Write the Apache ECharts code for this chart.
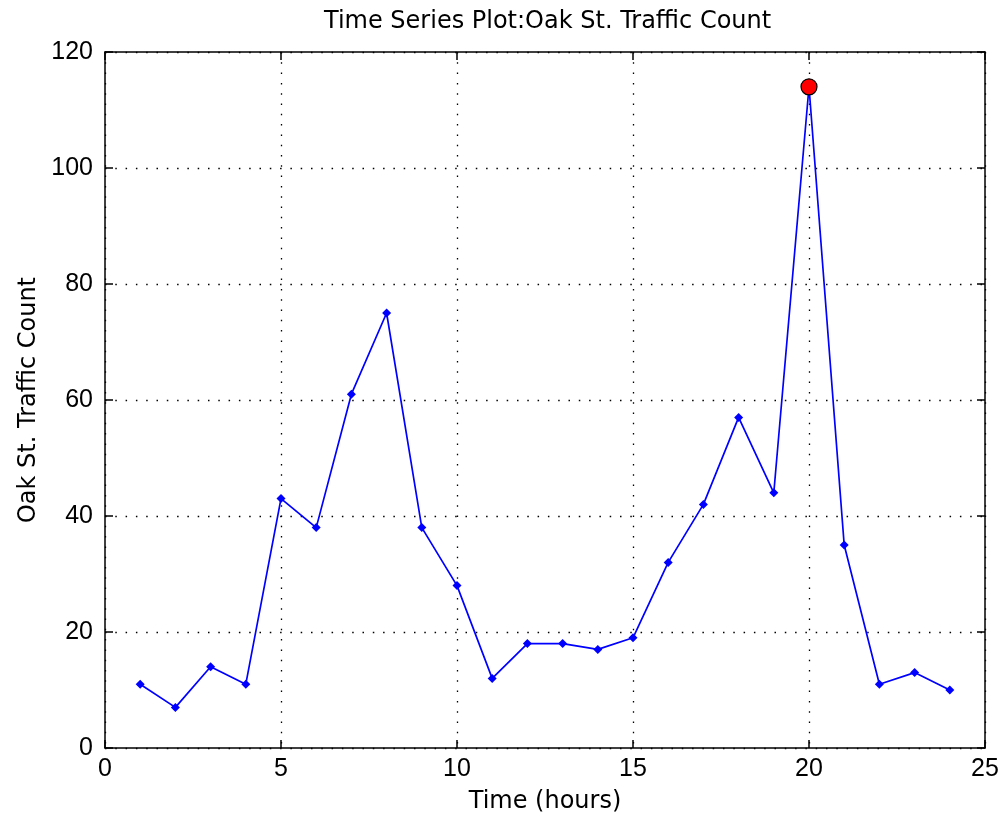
<!DOCTYPE html>
<html><head><meta charset="utf-8">
<script src="https://cdn.jsdelivr.net/npm/echarts@6/dist/echarts.min.js"></script>
<style>html,body{margin:0;padding:0;background:#fff}#c{width:1002px;height:822px}</style>
</head><body><div id="c"></div>
<script>
const hours = [1,2,3,4,5,6,7,8,9,10,11,12,13,14,15,16,17,18,19,20,21,22,23,24];
const counts = [11,7,14,11,43,38,61,75,38,28,12,18,18,17,19,32,42,57,44,114,35,11,13,10];
const xTicks = [0,5,10,15,20,25];
const yTicks = [0,20,40,60,80,100,120];
const titleText = 'Time Series Plot:Oak St. Traffic Count';
const xLabel = 'Time (hours)';
const yLabel = 'Oak St. Traffic Count';

const FONT = '"DejaVu Sans", "Liberation Sans", Arial, sans-serif';
const TICKFONT = '"Liberation Sans", Arial, sans-serif';
const lineData = hours.map((h,i)=>[h,counts[i]]);
let mi = 0; counts.forEach((v,i)=>{ if(v>counts[mi]) mi=i; });
const peak = [[hours[mi], counts[mi]]];

const xBase = {type:'value', min:xTicks[0], max:xTicks[xTicks.length-1], interval:xTicks[1]-xTicks[0]};
const yBase = {type:'value', min:yTicks[0], max:yTicks[yTicks.length-1], interval:yTicks[1]-yTicks[0]};
const axLine = {show:true, onZero:false, lineStyle:{color:'#000', width:1.5}};
const tick = {show:true, inside:true, length:8, lineStyle:{color:'#000', width:1.5}};
const grid = {show:true, lineStyle:{color:'#000', width:1.3, type:[1.5,8.8]}};

const chart = echarts.init(document.getElementById('c'), null, {renderer:'canvas'});
chart.setOption({
  animation:false,
  backgroundColor:'#fff',
  title:{text:titleText, left:319, top:5,
    textStyle:{fontFamily:FONT, fontSize:24, fontWeight:'normal', color:'#000'}},
  grid:{left:105, right:17, top:52, bottom:74, containLabel:false},
  xAxis:[
    Object.assign({}, xBase, {position:'bottom', name:xLabel, nameLocation:'middle', nameGap:42,
      nameTextStyle:{fontFamily:FONT, fontSize:24, color:'#000'},
      axisLine:axLine, axisTick:tick, splitLine:grid,
      axisLabel:{fontFamily:TICKFONT, fontSize:25, color:'#000', margin:9}}),
    Object.assign({}, xBase, {position:'top', axisLine:axLine, axisTick:tick,
      splitLine:{show:false}, axisLabel:{show:false}})
  ],
  yAxis:[
    Object.assign({}, yBase, {position:'left', name:yLabel, nameLocation:'middle', nameGap:64,
      nameTextStyle:{fontFamily:FONT, fontSize:24, color:'#000'},
      axisLine:axLine, axisTick:tick, splitLine:grid,
      axisLabel:{fontFamily:TICKFONT, fontSize:25, color:'#000', margin:12}}),
    Object.assign({}, yBase, {position:'right', axisLine:axLine, axisTick:tick,
      splitLine:{show:false}, axisLabel:{show:false}})
  ],
  series:[
    {type:'line', data:lineData, xAxisIndex:0, yAxisIndex:0, z:3,
      lineStyle:{color:'#0000ff', width:1.7},
      itemStyle:{color:'#0000ff'},
      symbol:'diamond', symbolSize:9, showSymbol:true},
    {type:'scatter', data:peak, xAxisIndex:0, yAxisIndex:0,
      symbol:'circle', symbolSize:16, z:10,
      itemStyle:{color:'#ff0000', opacity:1, borderColor:'#000', borderWidth:1.2}}
  ]
});
</script></body></html>
